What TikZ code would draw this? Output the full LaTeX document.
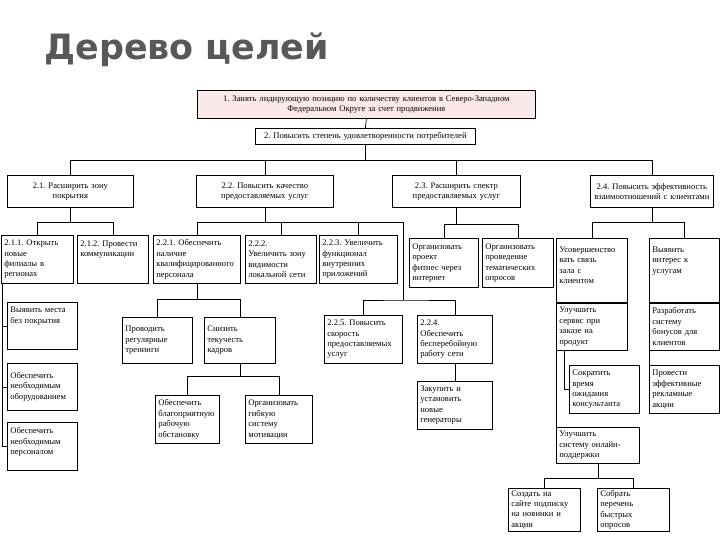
\documentclass[tikz,border=0pt]{standalone}
\usepackage{fontspec}
\setmainfont{Liberation Serif}
\newfontfamily\titlefont{DejaVu Sans}
\usetikzlibrary{
    calc,        % For coordinate calculations
    positioning  % For stacked boxes
}
\definecolor{toppink}{RGB}{251,233,234}
\definecolor{titlegray}{RGB}{88,88,88}
\frenchspacing

\begin{document}
\begin{tikzpicture}[
    x=1bp, y=-1bp,        % pixel-like units, y grows downwards
    line width=0.7bp,
    goal/.style={draw, anchor=north west, align=left,
        inner xsep=3bp, inner ysep=2bp,
        font=\fontsize{8.6}{10.5}\selectfont},   % Base style for goal boxes
    head/.style={goal, align=center}            % Centred goal boxes
]
    \fill[white] (0,0) rectangle (720,540);
    \useasboundingbox (0,0) rectangle (720,540);

    % Title
    \node[font=\titlefont\bfseries\fontsize{35}{40}\selectfont, text=titlegray,
        anchor=base west, inner sep=0] (title) at (44,60) {Дерево целей};

    % Level 1 and 2
    \node[head, fill=toppink, text width=332bp, minimum height=28bp] (g1) at (197,90)
        {1. Занять лидирующую позицию по количеству клиентов в Северо-Западном\\Федеральном Округе за счет продвижения};
    \node[head, text width=214bp, minimum height=16bp, inner ysep=1bp] (g2) at (255,128)
        {2. Повысить степень удовлетворенности потребителей};

    \node[head, text width=120bp, minimum height=32bp] (g21) at (7,175) {2.1. Расширить зону\\покрытия};
    \node[head, text width=131bp, minimum height=32bp] (g22) at (196,175) {2.2. Повысить качество\\предоставляемых услуг};
    \node[head, text width=122bp, minimum height=32bp] (g23) at (392,175) {2.3. Расширить спектр\\предоставляемых услуг};
    \node[head, text width=117bp, minimum height=32bp] (g24) at (590,175) {2.4. Повысить эффективность\\взаимоотношений с клиентами};

    % Level 3
    \node[goal, text width=66bp, minimum height=48bp] (g211) at (1,235) {2.1.1. Открыть\\новые\\филиалы в\\регионах};
    \node[goal, text width=65bp, minimum height=48bp] (g212) at (77,235) {2.1.2. Провести\\коммуникации\\~\\~};
    \node[goal, text width=81bp, minimum height=48bp] (g221) at (153,235) {2.2.1. Обеспечить\\наличие\\квалифицированного\\персонала};
    \node[goal, text width=65bp, minimum height=48bp] (g222) at (245,235) {2.2.2.\\Увеличить зону\\видимости\\локальной сети};
    \node[goal, text width=72bp, minimum height=48bp] (g223) at (319,235) {2.2.3. Увеличить\\функционал\\внутренних\\приложений};
    \node[goal, text width=63bp, minimum height=49bp] (fit) at (409,238) {Организовать\\проект\\фитнес через\\интернет};
    \node[goal, text width=65bp, minimum height=49bp] (opr) at (482,238) {Организовать\\проведение\\тематических\\опросов};
    \node[goal, text width=65bp, minimum height=64bp] (sv) at (556,238) {Усовершенство\\вать связь\\зала с\\клиентом\\~};
    \node[goal, text width=64bp, minimum height=64bp] (int) at (649,238) {Выявить\\интерес к\\услугам\\~\\~};

    % Level 4 and below
    \node[goal, text width=64bp, minimum height=47bp] (mest) at (7,302) {Выявить места\\без покрытия\\~\\~};
    \node[goal, text width=64bp, minimum height=47bp] (obor) at (7,363) {Обеспечить\\необходимым\\оборудованием};
    \node[goal, text width=64bp, minimum height=48bp] (pers) at (7,422) {Обеспечить\\необходимым\\персоналом\\~};
    \node[goal, text width=64bp, minimum height=46bp] (tr) at (122,317) {Проводить\\регулярные\\тренинги};
    \node[goal, text width=65bp, minimum height=46bp] (kad) at (204,317) {Снизить\\текучесть\\кадров};
    \node[goal, text width=58bp, minimum height=48bp] (obst) at (155,395) {Обеспечить\\благоприятную\\рабочую\\обстановку};
    \node[goal, text width=61bp, minimum height=48bp] (motiv) at (245,395) {Организовать\\гибкую\\систему\\мотивации};
    \node[goal, text width=72bp, minimum height=48bp] (g225) at (324,315) {2.2.5. Повысить\\скорость\\предоставляемых\\услуг};
    \node[goal, text width=69bp, minimum height=48bp] (g224) at (417,315) {2.2.4.\\Обеспечить\\бесперебойную\\работу сети};
    \node[goal, text width=69bp, minimum height=48bp, below=17bp of g224.south west, anchor=north west] (gen) {Закупить и\\установить\\новые\\генераторы};
    \node[goal, text width=65bp, minimum height=47bp, below=0bp of sv.south west, anchor=north west] (serv) {Улучшить\\сервис при\\заказе на\\продукт};
    \node[goal, text width=64bp, minimum height=48bp] (sokr) at (569,365) {Сократить\\время\\ожидания\\консультанта};
    \node[goal, text width=77bp, minimum height=36bp] (onl) at (556,427) {Улучшить\\систему онлайн-\\поддержки};
    \node[goal, text width=64bp, minimum height=47bp, below=0bp of int.south west, anchor=north west] (razr) {Разработать\\систему\\бонусов для\\клиентов};
    \node[goal, text width=64bp, minimum height=48bp] (prov) at (649,365) {Провести\\эффективные\\рекламные\\акции};
    \node[goal, text width=66bp, minimum height=40bp] (sozd) at (508,488) {Создать на\\сайте подписку\\на новинки и\\акции};
    \node[goal, text width=66bp, minimum height=40bp] (sobr) at (597,488) {Собрать\\перечень\\быстрых\\опросов};

    % Connectors
    \draw (g1.south) -- (g2.north);
    \draw (g2.south) -- ++(0,16) coordinate (b2);
    \draw (g21.north) |- (b2) -| (g24.north);
    \foreach \n in {g22,g23} \draw (b2 -| \n.north) -- (\n.north);

    % 2.1
    \draw (g21.south) -- ++(0,15) coordinate (b21);
    \draw (g211.north) |- (b21) -| (g212.north);
    \foreach \n in {mest,obor,pers} \draw ([xshift=1bp]g211.south west) |- (\n.west);

    % 2.2
    \draw (g22.south) -- ++(0,15) coordinate (b22);
    \coordinate (b225) at (403,300);
    \draw (g221.north) |- (b22) -| (b225);
    \foreach \n in {g222,g223} \draw (b22 -| \n.north) -- (\n.north);
    \draw (g225.north) |- (b225) -| (g224.north);
    \draw (g224.south) -- (gen.north);
    \draw (g221.south) -- ++(0,16) coordinate (b221);
    \draw (tr.north) |- (b221) -| (kad.north);
    \draw (kad.south) -- ++(0,13) coordinate (bkad);
    \draw (obst.north) |- (bkad) -| (motiv.north);

    % 2.3
    \draw (g23.south) -- ++(0,17) coordinate (b23);
    \draw (fit.north) |- (b23) -| (opr.north);

    % 2.4
    \draw (g24.south) -- ++(0,15) coordinate (b24);
    \draw (sv.north) |- (b24) -| (int.north);
    \draw ([xshift=8bp]serv.south west) |- (sokr.west);
    \draw (serv.south west) -- (onl.north west);
    \draw (onl.south) -- ++(0,15) coordinate (bonl);
    \draw (sozd.north) |- (bonl) -| (sobr.north);
    \draw (razr.south west) -- (prov.north west);

\end{tikzpicture}
\end{document}
